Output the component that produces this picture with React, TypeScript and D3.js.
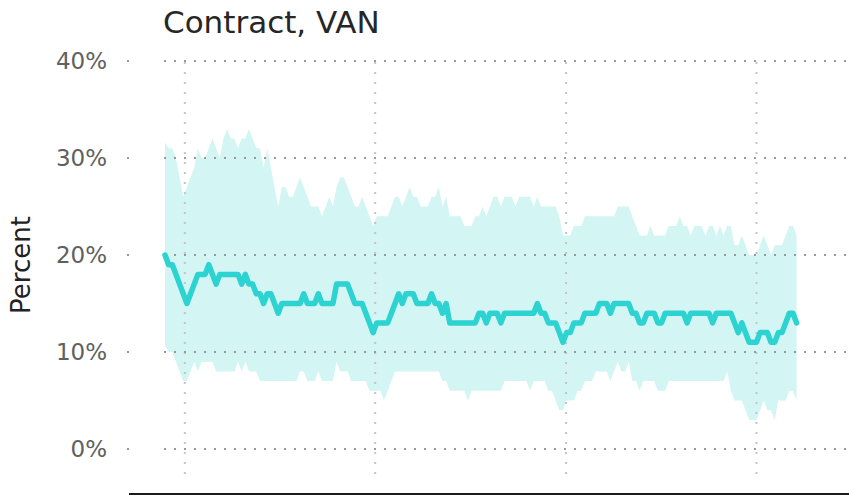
import React from "react";
import * as d3 from "d3";

const title = "Contract, VAN";
const yLabel = "Percent";
const yTicks = [0, 10, 20, 30, 40];
const startDate = new Date(2018, 10, 24);

const central = [
  20, 19, 19, 18, 17, 16, 15, 16, 17, 18, 18, 18, 19, 18, 17, 18, 18, 18, 18, 18,
  18, 17, 18, 17, 17, 16, 16, 15, 16, 16, 15, 14, 15, 15, 15, 15, 15, 15, 16, 15,
  15, 15, 16, 15, 15, 15, 15, 17, 17, 17, 17, 16, 15, 15, 15, 14, 13, 12, 13, 13,
  13, 13, 14, 15, 16, 15, 16, 16, 16, 15, 15, 15, 15, 16, 15, 15, 14, 15, 13, 13,
  13, 13, 13, 13, 13, 13, 14, 14, 13, 14, 14, 14, 13, 14, 14, 14, 14, 14, 14, 14,
  14, 14, 15, 14, 14, 13, 13, 13, 12, 11, 12, 12, 13, 13, 13, 14, 14, 14, 14, 15,
  15, 15, 14, 15, 15, 15, 15, 15, 14, 14, 13, 13, 14, 14, 14, 13, 13, 14, 14, 14,
  14, 14, 14, 13, 14, 14, 14, 14, 14, 14, 13, 14, 14, 14, 14, 14, 13, 12, 13, 12,
  11, 11, 11, 12, 12, 12, 11, 11, 12, 12, 13, 14, 14, 13,
];

const upper = [
  31.6, 31, 31, 30, 28, 26, 27, 28, 29, 31, 30, 30, 31, 32, 31, 30, 32, 33, 32, 32,
  31, 32, 32, 33, 32, 31, 31, 29, 31, 29, 27, 25, 27, 27, 26, 26, 27, 28, 27, 26,
  25, 25, 25, 24, 25, 26, 25, 27, 28, 28, 27, 26, 25, 25, 26, 25, 24, 23, 24, 24,
  24, 24, 25, 26, 26, 25, 26, 27, 26, 26, 25, 25, 25, 26, 26, 27, 25, 26, 24, 24,
  24, 24, 23, 23, 23, 24, 24, 25, 24, 25, 26, 26, 25, 26, 26, 26, 25, 26, 26, 26,
  26, 25, 26, 25, 25, 25, 25, 25, 24, 22, 22, 22, 23, 23, 23, 24, 24, 24, 24, 24,
  24, 24, 24, 24, 25, 25, 25, 25, 24, 23, 22, 22, 22, 23, 22, 22, 22, 22, 23, 23,
  23, 24, 23, 23, 22, 23, 23, 23, 22, 23, 23, 22, 23, 22, 23, 23, 21, 21, 22, 21,
  20, 20, 20, 21, 22, 21, 20, 21, 21, 21, 22, 23, 23, 22,
];

const lower = [
  10.7, 10, 10, 9, 8, 7, 7, 8, 9, 8, 9, 9, 9, 9, 8, 8, 8, 8, 8, 8,
  9, 8, 9, 8, 8, 8, 7, 7, 7, 7, 7, 7, 7, 7, 7, 7, 7, 8, 8, 7,
  7, 7, 8, 7, 7, 7, 7, 9, 8, 8, 8, 7, 7, 7, 7, 7, 6, 6, 6, 6,
  5, 6, 7, 8, 8, 8, 8, 8, 8, 8, 8, 8, 8, 8, 8, 8, 7, 7, 6, 6,
  6, 6, 6, 5, 6, 6, 6, 6, 6, 6, 6, 6, 6, 7, 7, 7, 7, 7, 7, 7,
  6, 7, 7, 7, 7, 6, 6, 5, 4, 4, 5, 5, 5, 6, 6, 7, 7, 7, 8, 8,
  8, 8, 7, 8, 9, 8, 8, 9, 7, 7, 6, 7, 7, 7, 7, 6, 6, 6, 7, 7,
  7, 7, 7, 7, 7, 7, 7, 7, 7, 7, 7, 7, 7, 7, 8, 6, 5, 5, 5, 4,
  3, 3, 3, 4, 5, 4, 4, 3, 5, 5, 5, 6, 6, 5,
];

const dates = central.map((_, i) => d3.timeDay.offset(startDate, i * 7));

export default function App() {
  const W = 849;
  const H = 501;
  const x = d3
    .scaleTime()
    .domain([dates[0], dates[dates.length - 1]])
    .range([165, 796.6]);
  const y = d3.scaleLinear().domain([0, 40]).range([449, 61]);

  const data = dates.map((d, i) => ({ d, c: central[i], u: upper[i], l: lower[i] }));
  const area = d3
    .area<any>()
    .x((p) => x(p.d))
    .y0((p) => y(p.l))
    .y1((p) => y(p.u));
  const line = d3
    .line<any>()
    .x((p) => x(p.d))
    .y((p) => y(p.c));

  const yearTicks = x.ticks(d3.timeYear.every(1));

  return (
    <svg width={W} height={H} style={{ position: "absolute", left: 0, top: 0, fontFamily: "DejaVu Sans" }}>
      <rect width={W} height={H} fill="#fff" />
      <path d={area(data) || ""} fill="#d3f5f3" />
      {yearTicks.map((t, i) => (
        <line
          key={"v" + i}
          x1={x(t)}
          x2={x(t)}
          y1={62}
          y2={474}
          stroke="#c4c4c4"
          strokeWidth={2}
          strokeDasharray="2,8"
        />
      ))}
      {yTicks.map((t) => (
        <g key={"h" + t}>
          <line x1={164} x2={849} y1={y(t)} y2={y(t)} stroke="#999" strokeWidth={2} strokeDasharray="2,8" />
          <line x1={127} x2={129} y1={y(t)} y2={y(t)} stroke="#999" strokeWidth={2} />
          <text x={107} y={y(t)} dy="0.36em" textAnchor="end" fontSize={23} fill="#606060">
            {t + "%"}
          </text>
        </g>
      ))}
      <path
        d={line(data) || ""}
        fill="none"
        stroke="#2cd3d1"
        strokeWidth={5.5}
        strokeLinejoin="round"
        strokeLinecap="round"
      />
      <line x1={129} x2={849} y1={494} y2={494} stroke="#1a1a1a" strokeWidth={2} />
      <text x={163} y={33} fontSize={31} fill="#262626">
        {title}
      </text>
      <text transform="translate(30,265) rotate(-90)" textAnchor="middle" fontSize={26} fill="#222">
        {yLabel}
      </text>
    </svg>
  );
}
